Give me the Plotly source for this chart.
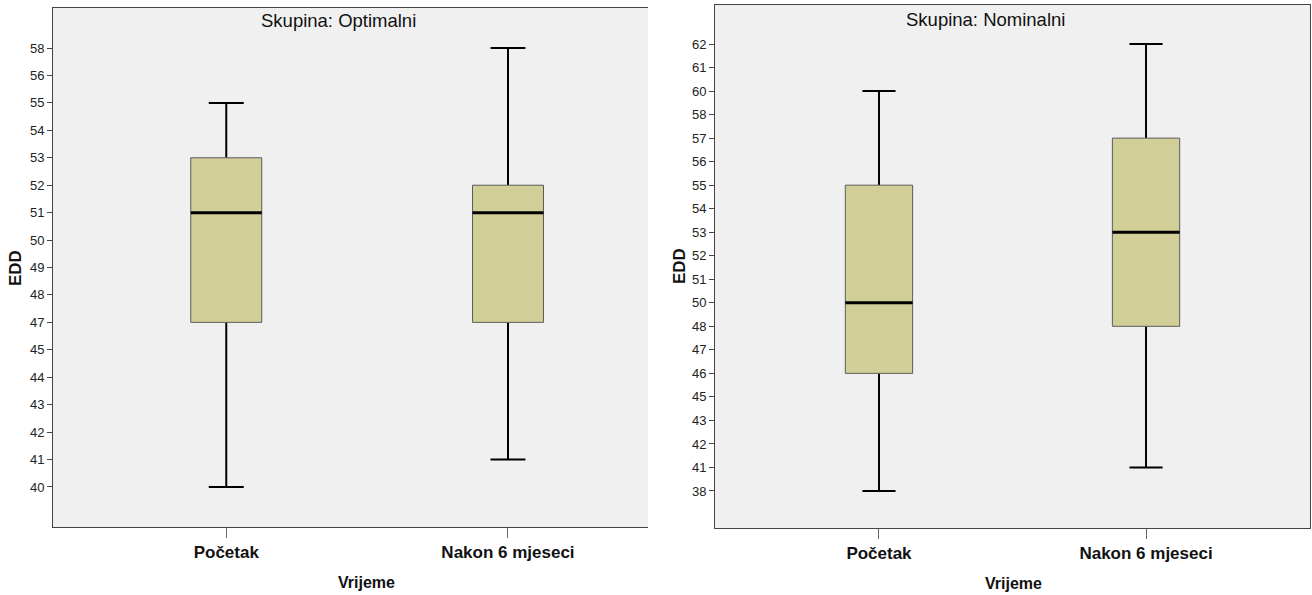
import plotly.graph_objects as go

# ---------------- data ----------------
time_labels = ["Početak", "Nakon 6 mjeseci"]

# Panel 1: Skupina Optimalni (distinct observed EDD values shown on axis)
opt_levels = [40, 41, 42, 43, 44, 45, 47, 48, 49, 50, 51, 52, 53, 54, 55, 56, 58]
opt_min = [40, 41]
opt_q1 = [47, 47]
opt_med = [51, 51]
opt_q3 = [53, 52]
opt_max = [55, 58]

# Panel 2: Skupina Nominalni
nom_levels = [38, 41, 42, 43, 45, 46, 47, 48, 50, 51, 52, 53, 54, 55, 56, 57, 58, 60, 61, 62]
nom_min = [38, 41]
nom_q1 = [46, 48]
nom_med = [50, 53]
nom_q3 = [55, 57]
nom_max = [60, 62]

# ---------------- style ----------------
W, H = 1312, 595
BG = "#F0F0F0"
BOX_FILL = "rgb(210,206,152)"
BOX_EDGE = "#5c5c5c"
AXIS_COL = "#444444"
FONT = "Liberation Sans, Arial, sans-serif"
HALF_BOX = 0.126
HALF_CAP = 0.062


def px(x):
    return x / W


def py(y):
    return 1 - y / H


fig = go.Figure()


def add_panel(levels, mins, q1s, meds, q3s, maxs, xa, ya):
    idx = {v: i for i, v in enumerate(levels)}
    for i in range(len(time_labels)):
        lo, a, m, b, hi = idx[mins[i]], idx[q1s[i]], idx[meds[i]], idx[q3s[i]], idx[maxs[i]]
        # whiskers
        fig.add_trace(go.Scatter(
            x=[i, i, None, i, i], y=[lo, a, None, b, hi], mode="lines",
            line=dict(color="black", width=2), xaxis=xa, yaxis=ya,
            showlegend=False, hoverinfo="skip"))
        # caps
        fig.add_trace(go.Scatter(
            x=[i - HALF_CAP, i + HALF_CAP, None, i - HALF_CAP, i + HALF_CAP],
            y=[lo, lo, None, hi, hi], mode="lines",
            line=dict(color="black", width=2), xaxis=xa, yaxis=ya,
            showlegend=False, hoverinfo="skip"))
        # box
        fig.add_trace(go.Scatter(
            x=[i - HALF_BOX, i + HALF_BOX, i + HALF_BOX, i - HALF_BOX, i - HALF_BOX],
            y=[a, a, b, b, a], mode="lines", fill="toself", fillcolor=BOX_FILL,
            line=dict(color=BOX_EDGE, width=1), xaxis=xa, yaxis=ya,
            showlegend=False, hoverinfo="skip"))
        # median
        fig.add_trace(go.Scatter(
            x=[i - HALF_BOX, i + HALF_BOX], y=[m, m], mode="lines",
            line=dict(color="black", width=3), xaxis=xa, yaxis=ya,
            showlegend=False, hoverinfo="skip"))


add_panel(opt_levels, opt_min, opt_q1, opt_med, opt_q3, opt_max, "x", "y")
add_panel(nom_levels, nom_min, nom_q1, nom_med, nom_q3, nom_max, "x2", "y2")

xcommon = dict(
    tickmode="array", tickvals=[0, 1], ticktext=time_labels,
    tickfont=dict(family=FONT, size=17, color="#111", weight="bold"),
    ticks="outside", ticklen=10, tickcolor="#666", tickwidth=1,
    showline=True, linecolor=AXIS_COL, linewidth=1, mirror=True,
    showgrid=False, zeroline=False, fixedrange=True,
)
ycommon = dict(
    tickmode="array",
    tickfont=dict(family=FONT, size=13, color="#222"),
    ticks="outside", ticklen=5, tickcolor=AXIS_COL, tickwidth=1,
    showline=True, linecolor=AXIS_COL, linewidth=1,
    showgrid=False, zeroline=False, fixedrange=True,
)

fig.update_layout(
    width=W, height=H,
    margin=dict(l=0, r=0, t=0, b=0),
    paper_bgcolor="white", plot_bgcolor=BG,
    xaxis=dict(domain=[px(53), px(648)], range=[-0.615, 1.497], anchor="y", **xcommon),
    yaxis=dict(domain=[py(527), py(8)], range=[-1.46, len(opt_levels) - 1 + 1.46], anchor="x",
               tickvals=list(range(len(opt_levels))), ticktext=[str(v) for v in opt_levels],
               mirror=False, **ycommon),
    xaxis2=dict(domain=[px(715), px(1310)], range=[-0.614, 1.614], anchor="y2", **xcommon),
    yaxis2=dict(domain=[py(528), py(5)], range=[-1.573, len(nom_levels) - 1 + 1.658], anchor="x2",
                tickvals=list(range(len(nom_levels))), ticktext=[str(v) for v in nom_levels],
                mirror=True, **ycommon),
    font=dict(family=FONT),
)

ann = []


def text(x, y, s, size, bold=False, angle=0):
    ann.append(dict(
        x=px(x), y=py(y), xref="paper", yref="paper", text=s, showarrow=False,
        xanchor="center", yanchor="middle", textangle=angle,
        font=dict(family=FONT, size=size, color="#111", weight="bold" if bold else "normal")))


text(338, 21, "Skupina: Optimalni", 18.5)
text(986, 19, "Skupina: Nominalni", 18.5)
text(15, 268, "EDD", 17, bold=True, angle=-90)
text(679, 266, "EDD", 17, bold=True, angle=-90)
text(366, 582, "Vrijeme", 16, bold=True)
text(1013, 583, "Vrijeme", 16, bold=True)

fig.update_layout(annotations=ann)

fig.write_html("out.html", config={"displayModeBar": False},
               post_script="document.body.style.margin='0';")
